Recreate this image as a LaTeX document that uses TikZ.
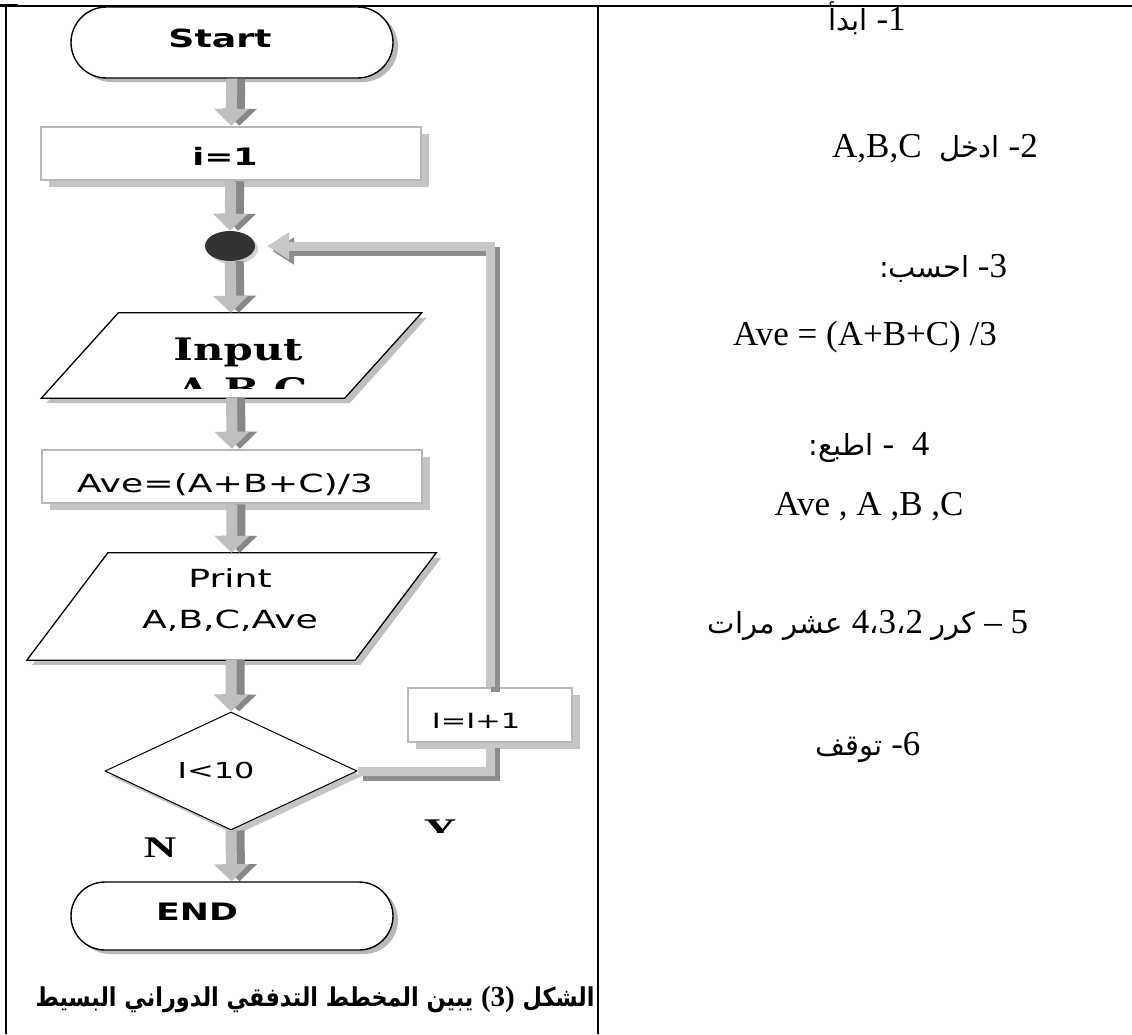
\documentclass[tikz,border=0pt]{standalone}
\usepackage{fontspec}
\setmainfont{Liberation Serif}
\newfontfamily\arfont[Script=Arabic]{DejaVu Sans}
\newfontfamily\capfont[Script=Arabic, FakeStretch=0.86]{DejaVu Sans}
\newfontfamily\fcsans{DejaVu Sans}[FakeStretch=1.45]
\newfontfamily\fcserif{DejaVu Serif}[FakeStretch=1.35]
\newfontfamily\lblserif{Liberation Serif}[FakeStretch=1.5]
\TeXXeTstate=1
\usetikzlibrary{shapes.geometric,shapes.misc,shadows,arrows.meta}

\newcommand\pxsize[1]{\fontsize{#1}{#1}\selectfont}
\newcommand\AR[1]{{\arfont\pxsize{29}\beginR #1\endR}}

\tikzset{
  term/.style={rounded rectangle, draw=black, line width=1.4pt, fill=white,
    minimum width=322pt, inner sep=0pt,
    drop shadow={shadow xshift=5pt, shadow yshift=-4pt, fill=black!55}},
  proc/.style={rectangle, draw=black!28, line width=2.5pt, fill=white,
    minimum width=380pt, minimum height=53pt, inner sep=0pt,
    drop shadow={shadow xshift=8pt, shadow yshift=-7pt, fill=black!45}},
  iobody/.style={rectangle, inner sep=0pt},
  ioshape/.style={draw=black, line width=1.3pt, fill=white, line join=miter,
    drop shadow={shadow xshift=5pt, shadow yshift=-5pt, fill=black!50}},
  decision/.style={diamond, draw=black, line width=1pt, fill=white, inner sep=0pt,
    minimum width=252pt, minimum height=118pt,
    drop shadow={shadow xshift=5pt, shadow yshift=-5pt, fill=black!45}},
  junction/.style={ellipse, fill=black!80, minimum width=50pt, minimum height=30pt,
    inner sep=0pt, drop shadow={shadow xshift=3pt, shadow yshift=-3pt, fill=black!35}},
  flowarrow/.style={line width=11pt, draw=black!25, -{Triangle[width=34pt,length=17pt]},
    preaction={draw=black!47, line width=11pt, -{Triangle[width=34pt,length=17pt]},
      transform canvas={xshift=8pt}}},
  loopline/.style={line width=9pt, draw=black!22,
    preaction={draw=black!45, line width=9pt, transform canvas={xshift=5pt,yshift=-5pt}}},
  looparrow/.style={line width=9pt, draw=black!22, -{Triangle[width=26pt,length=22pt]},
    shorten >=12pt,
    preaction={draw=black!45, line width=9pt, -{Triangle[width=26pt,length=22pt]},
      shorten >=12pt, transform canvas={xshift=5pt,yshift=-5pt}}},
  txt/.style={anchor=base, inner sep=0pt},
  rtext/.style={anchor=base, inner sep=0pt, font=\rmfamily\pxsize{35}},
  rule/.style={draw=black, line width=2pt}
}

\begin{document}
\begin{tikzpicture}[x=1pt,y=-1pt]
\useasboundingbox (0,0) rectangle (1132,1034);
\fill[white] (0,0) rectangle (1132,1034);

% table rules
\draw[rule, line width=1.6pt] (0,6) -- (1132,6);
\draw[rule, line width=3pt] (0,5) -- (18,5);
\draw[rule] (5.5,6) -- (5.5,1034);
\draw[rule, line width=2.4pt] (598,6) -- (598,1034);

% flowchart shapes
\node[term, minimum height=71pt] (start) at (232,42.5) {};
\node[proc] (init) at (231,153.5) {};
\node[junction] (dot) at (230,246) {};
% input / output boxes: parallelograms around an invisible body
\node[iobody, minimum width=303pt, minimum height=85pt] (input) at (231.5,355.5) {};
\path[ioshape] ([xshift=38.5pt]input.north west) -- ([xshift=38.5pt]input.north east)
  -- ([xshift=-38.5pt]input.south east) -- ([xshift=-38.5pt]input.south west) -- cycle;
\node[proc] (calc) at (232,476.5) {};
\node[iobody, minimum width=328pt, minimum height=107pt] (print) at (231.5,606.5) {};
\path[ioshape] ([xshift=40.5pt]print.north west) -- ([xshift=40.5pt]print.north east)
  -- ([xshift=-40.5pt]print.south east) -- ([xshift=-40.5pt]print.south west) -- cycle;
\node[decision] (test) at (231,771) {};
\node[proc, minimum width=164pt, minimum height=54pt] (incr) at (490,715) {};
\node[term, minimum height=68pt] (stop) at (232,916) {};

% connectors
\draw[flowarrow] (start) -- (init);
\draw[flowarrow] (init) -- (dot);
\draw[flowarrow] (dot) -- (input);
\draw[flowarrow] (input) -- (calc);
\draw[flowarrow] (calc) -- (print);
\draw[flowarrow] (print) -- (test.north);
\draw[flowarrow] (test.south) -- (stop);
\draw[loopline] (test.east) -| (incr.south);
\draw[looparrow] (incr.north) |- (dot.east);

% flowchart texts
\node[txt, font=\fcsans\bfseries\pxsize{25}] (starttxt) at (220,47) {Start};
\node[txt, font=\fcsans\bfseries\pxsize{24}] (inittxt) at (225,165) {i=1};
\node[txt, font=\fcserif\bfseries\pxsize{31}] (inputtxt) at (238,360) {Input};
\begin{scope}
  \clip (40,370) rectangle (420,388);
  \node[txt, font=\fcserif\bfseries\pxsize{31}] (inputsub) at (242,400) {A,B,C};
\end{scope}
\node[txt, font=\fcsans\pxsize{25}] (calctxt) at (225,492) {Ave=(A+B+C)/3};
\node[txt, font=\fcsans\pxsize{25}] (printtxt) at (230,587) {Print};
\node[txt, font=\fcsans\pxsize{25}] (printsub) at (230,628) {A,B,C,Ave};
\node[txt, font=\fcsans\pxsize{22}] (testtxt) at (216,778) {I<10};
\node[txt, font=\fcsans\pxsize{21}] (incrtxt) at (476,728) {I=I+1};
\node[txt, font=\fcsans\bfseries\pxsize{24}] (stoptxt) at (197,920) {END};
\node[txt, font=\lblserif\bfseries\pxsize{30}] (nolabel) at (160,857) {N};
\begin{scope}
  \clip (420,812) rectangle (462,832);
  \node[txt, font=\lblserif\bfseries\pxsize{30}] (yeslabel) at (440,839) {Y};
\end{scope}

% caption
\node[txt, font=\capfont\bfseries\pxsize{26}] (caption) at (315,1006)
  {\beginR الشكل {\rmfamily\bfseries\pxsize{29}\beginL(3)\endL} يبين المخطط التدفقي الدوراني البسيط\endR};

% algorithm steps
\node[rtext] (step1) at (867,30) {\AR{ابدأ} -1};
\node[rtext] (step2) at (935,157) {A,B,C\ \ \AR{ادخل} -2};
\node[rtext] (step3) at (943,277) {{\arfont\pxsize{29}:}\AR{احسب} -3};
\node[rtext] (step3b) at (865,345) {Ave = (A+B+C) /3};
\node[rtext] (step4) at (869,455) {{\arfont\pxsize{29}:}\AR{اطبع} -\ \ 4};
\node[rtext] (step4b) at (869,515) {Ave , A ,B ,C};
\node[rtext] (step5) at (868,633) {\AR{عشر مرات} 4{\arfont\pxsize{29}،}3{\arfont\pxsize{29}،}2 \AR{كرر} – 5};
\node[rtext] (step6) at (868,755) {\AR{توقف} -6};
\end{tikzpicture}
\end{document}
